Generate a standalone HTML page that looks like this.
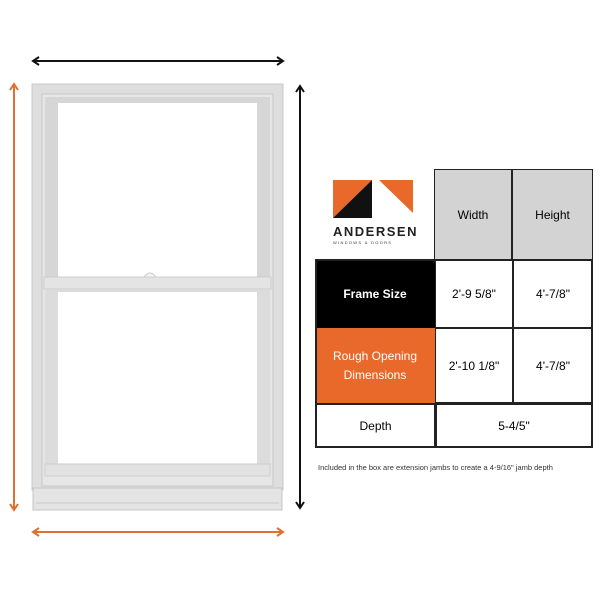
<!DOCTYPE html>
<html><head><style>
body{margin:0;width:600px;height:600px;background:#fff;position:relative;font-family:"Liberation Sans",sans-serif;overflow:hidden}
.a{position:absolute}
.c{position:absolute;display:flex;align-items:center;justify-content:center;text-align:center;font-size:12px;box-sizing:border-box}
</style></head><body>
<svg class="a" style="left:0;top:0" width="600" height="600">
<defs>
<marker id="k" markerWidth="10" markerHeight="10" refX="7" refY="5" orient="auto-start-reverse" markerUnits="userSpaceOnUse"><path d="M1,1 L7,5 L1,9" fill="none" stroke="#111" stroke-width="2"/></marker>
<marker id="o" markerWidth="10" markerHeight="10" refX="7" refY="5" orient="auto-start-reverse" markerUnits="userSpaceOnUse"><path d="M1,1 L7,5 L1,9" fill="none" stroke="#e07030" stroke-width="2"/></marker>
</defs>
<line x1="33" y1="61" x2="283" y2="61" stroke="#111" stroke-width="2" marker-start="url(#k)" marker-end="url(#k)"/>
<line x1="14" y1="84" x2="14" y2="510" stroke="#e07030" stroke-width="2" marker-start="url(#o)" marker-end="url(#o)"/>
<line x1="300" y1="86" x2="300" y2="508" stroke="#111" stroke-width="2" marker-start="url(#k)" marker-end="url(#k)"/>
<line x1="33" y1="532" x2="283" y2="532" stroke="#e07030" stroke-width="2" marker-start="url(#o)" marker-end="url(#o)"/>
<rect x="32" y="84" width="251" height="406" fill="#dedede" stroke="#c8c8c8"/>
<rect x="42" y="94" width="231" height="392" fill="#e6e6e6" stroke="#c8c8c8"/>
<rect x="45" y="97" width="225" height="180" fill="#d6d6d6"/>
<rect x="58" y="103" width="199" height="174" fill="#fff"/>
<rect x="44" y="277" width="227" height="12" fill="#e4e4e4" stroke="#cccccc"/>
<rect x="45" y="290" width="225" height="185" fill="#dcdcdc"/>
<rect x="58" y="292" width="199" height="172" fill="#fff"/>
<rect x="45" y="464" width="225" height="12" fill="#e2e2e2" stroke="#cecece"/>
<rect x="33" y="488" width="249" height="22" fill="#e4e4e4" stroke="#c4c4c4"/>
<line x1="36" y1="503" x2="279" y2="503" stroke="#c8c8c8"/>
<path d="M144,277 q6,-8 12,0z" fill="#f4f4f4" stroke="#ccc"/>
<polygon points="333,180 372,180 333,218" fill="#e8692a"/>
<polygon points="333,218 372,180 372,218" fill="#111"/>
<polygon points="379,180 413,180 413,213" fill="#e8692a"/>
</svg>
<div class="a" style="left:333px;top:224px;width:82px;font-size:13px;font-weight:bold;letter-spacing:1.5px;color:#222">ANDERSEN</div>
<div class="a" style="left:333px;top:240px;width:82px;font-size:4px;letter-spacing:1.3px;color:#333">WINDOWS &amp; DOORS</div>
<div class="a" style="left:434px;top:169px;width:159px;height:279px;border:2px solid #222;box-sizing:border-box"></div>
<div class="c" style="left:435px;top:170px;width:78px;height:90px;background:#d3d3d3;border-right:2px solid #222">Width</div>
<div class="c" style="left:513px;top:170px;width:79px;height:90px;background:#d3d3d3">Height</div>
<div class="c" style="left:315px;top:260px;width:120px;height:68px;background:#000;color:#fff;font-weight:bold">Frame Size</div>
<div class="c" style="left:315px;top:328px;width:120px;height:75px;background:#e8692a;color:#fff;line-height:19px">Rough Opening<br>Dimensions</div>
<div class="a" style="left:315px;top:259px;width:278px;height:189px;border:2px solid #222;box-sizing:border-box"></div>
<div class="c" style="left:435px;top:260px;width:78px;height:68px;border:1px solid #222">2'-9 5/8"</div>
<div class="c" style="left:513px;top:260px;width:80px;height:68px;border:1px solid #222">4'-7/8"</div>
<div class="c" style="left:435px;top:328px;width:78px;height:75px;border:1px solid #222">2'-10 1/8"</div>
<div class="c" style="left:513px;top:328px;width:80px;height:75px;border:1px solid #222">4'-7/8"</div>
<div class="c" style="left:315px;top:403px;width:121px;height:45px;border:2px solid #222">Depth</div>
<div class="c" style="left:435px;top:403px;width:158px;height:45px;border:2px solid #222">5-4/5"</div>
<div class="a" style="left:318px;top:463px;font-size:7.5px;color:#333;white-space:nowrap">Included in the box are extension jambs to create a 4-9/16" jamb depth</div>
</body></html>
